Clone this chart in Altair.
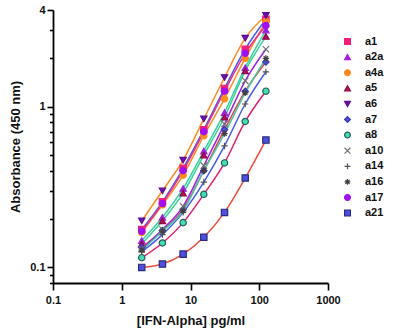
import altair as alt
import pandas as pd

conc = [1.953, 3.906, 7.8125, 15.625, 31.25, 62.5, 125]
series_names = ["a1", "a2a", "a4a", "a5", "a6", "a7", "a8", "a10", "a14", "a16", "a17", "a21"]

a1 = [0.172, 0.256, 0.414, 0.72, 1.30, 2.28, 3.5]
a2a = [0.147, 0.205, 0.31, 0.53, 0.92, 1.75, 3.0]
a4a = [0.165, 0.245, 0.375, 0.66, 1.12, 2.0, 3.4]
a5 = [0.140, 0.195, 0.29, 0.50, 0.86, 1.67, 2.74]
a6 = [0.195, 0.30, 0.465, 0.84, 1.52, 2.67, 3.7]
a7 = [0.133, 0.17, 0.23, 0.40, 0.72, 1.25, 1.9]
a8 = [0.115, 0.142, 0.19, 0.285, 0.447, 0.81, 1.25]
a10 = [0.130, 0.172, 0.24, 0.43, 0.78, 1.45, 2.28]
a14 = [0.125, 0.16, 0.22, 0.34, 0.57, 1.04, 1.65]
a16 = [0.128, 0.168, 0.225, 0.40, 0.68, 1.22, 2.0]
a17 = [0.168, 0.25, 0.40, 0.70, 1.25, 2.15, 3.2]
a21 = [0.100, 0.105, 0.121, 0.154, 0.22, 0.36, 0.62]

values = [a1, a2a, a4a, a5, a6, a7, a8, a10, a14, a16, a17, a21]

x_ticks = [0.1, 1, 10, 100, 1000]
y_ticks = [4, 3, 2, 1, 0.9, 0.8, 0.7, 0.6, 0.5, 0.4, 0.3, 0.2, 0.1, 0.09, 0.08]

line_colors = ["#4a5ae8", "#3ccf9e", "#ff8a1e", "#3ccf9e", "#ff8a1e", "#e8404a",
               "#e0206e", "#9b22e6", "#4a5ae8", "#3ccf9e", "#e8308c", "#ee4b3a"]
fill_colors = ["#f0207a", "#a020e0", "#ff8a1e", "#b0105a", "#7010b0", "#5050d0",
               "#40e0b0", "transparent", "transparent", "transparent", "#a010f0", "#5050e0"]
stroke_colors = ["#f0207a", "#a020e0", "#ff8a1e", "#8a0c48", "#5a0c90", "#3a3ab0",
                 "#2a5a60", "#707070", "#505050", "#404040", "#a010f0", "#2a2a80"]
shapes = ["square", "triangle-up", "circle", "triangle-up", "triangle-down", "diamond",
          "circle", "M-1,-1L1,1M-1,1L1,-1", "M-1,0L1,0M0,-1L0,1",
          "M-1,0L1,0M0,-1L0,1M-0.7,-0.7L0.7,0.7M-0.7,0.7L0.7,-0.7",
          "circle", "square"]

rows = []
for name, vals, lc in zip(series_names, values, line_colors):
    for c, v in zip(conc, vals):
        rows.append({"series": name, "conc": c, "abs": v, "lc": lc})
df = pd.DataFrame(rows)

FONT = "Liberation Sans"

x_enc = alt.X("conc:Q",
              scale=alt.Scale(type="log", domain=[0.1, 1000], nice=False),
              axis=alt.Axis(values=x_ticks, format="~g", title="[IFN-Alpha] pg/ml",
                            grid=False, tickSize=7, tickWidth=1.6, domainWidth=1.8,
                            domainColor="black", tickColor="black",
                            labelFont=FONT, labelFontWeight="bold", labelFontSize=11,
                            labelColor="#111", labelPadding=4,
                            titleFont=FONT, titleFontWeight="bold", titleFontSize=13,
                            titleColor="#111", titlePadding=9, labelFlush=False))
y_enc = alt.Y("abs:Q",
              scale=alt.Scale(type="log", domain=[0.08, 4], nice=False),
              axis=alt.Axis(values=y_ticks, format="~g", title="Absorbance (450 nm)",
                            grid=False,
                            tickSize={"condition": {"test": "datum.value == 4 || datum.value == 1 || abs(datum.value - 0.1) < 1e-9", "value": 6}, "value": 3.5},
                            labelExpr="(datum.value == 4 || datum.value == 1 || abs(datum.value - 0.1) < 1e-9) ? datum.label : ''",
                            tickWidth=1.6, domainWidth=1.8,
                            domainColor="black", tickColor="black",
                            labelFont=FONT, labelFontWeight="bold", labelFontSize=11,
                            labelColor="#111", labelPadding=2, labelFlush=False,
                            titleFont=FONT, titleFontWeight="bold", titleFontSize=13,
                            titleColor="#111", titlePadding=7))

lines = alt.Chart(df).mark_line(strokeWidth=1.5, interpolate="monotone", clip=True).encode(
    x=x_enc, y=y_enc,
    color=alt.Color("lc:N", scale=None),
    detail="series:N",
)

legend = alt.Legend(title=" ", orient="right", offset=14, direction="vertical",
                    titleFontSize=14, titlePadding=12,
                    labelFont=FONT, labelFontWeight="bold", labelFontSize=11,
                    labelColor="#111", symbolSize=34, symbolStrokeWidth=1.2,
                    rowPadding=3.6, labelOffset=12, padding=0)

points = alt.Chart(df).mark_point(filled=True, size=40, strokeWidth=1.2, opacity=1).encode(
    x=x_enc, y=y_enc,
    fill=alt.Fill("series:N", scale=alt.Scale(domain=series_names, range=fill_colors), legend=legend),
    stroke=alt.Stroke("series:N", scale=alt.Scale(domain=series_names, range=stroke_colors), legend=legend),
    shape=alt.Shape("series:N", scale=alt.Scale(domain=series_names, range=shapes), legend=legend),
)

chart = alt.layer(lines, points).properties(
    width=275, height=273,
    autosize=alt.AutoSizeParams(type="none"),
    padding={"left": 53, "top": 10, "right": 72, "bottom": 52},
    background="white",
).configure_view(stroke=None)

chart.save("out.html", embed_options={"renderer": "svg", "actions": False})
